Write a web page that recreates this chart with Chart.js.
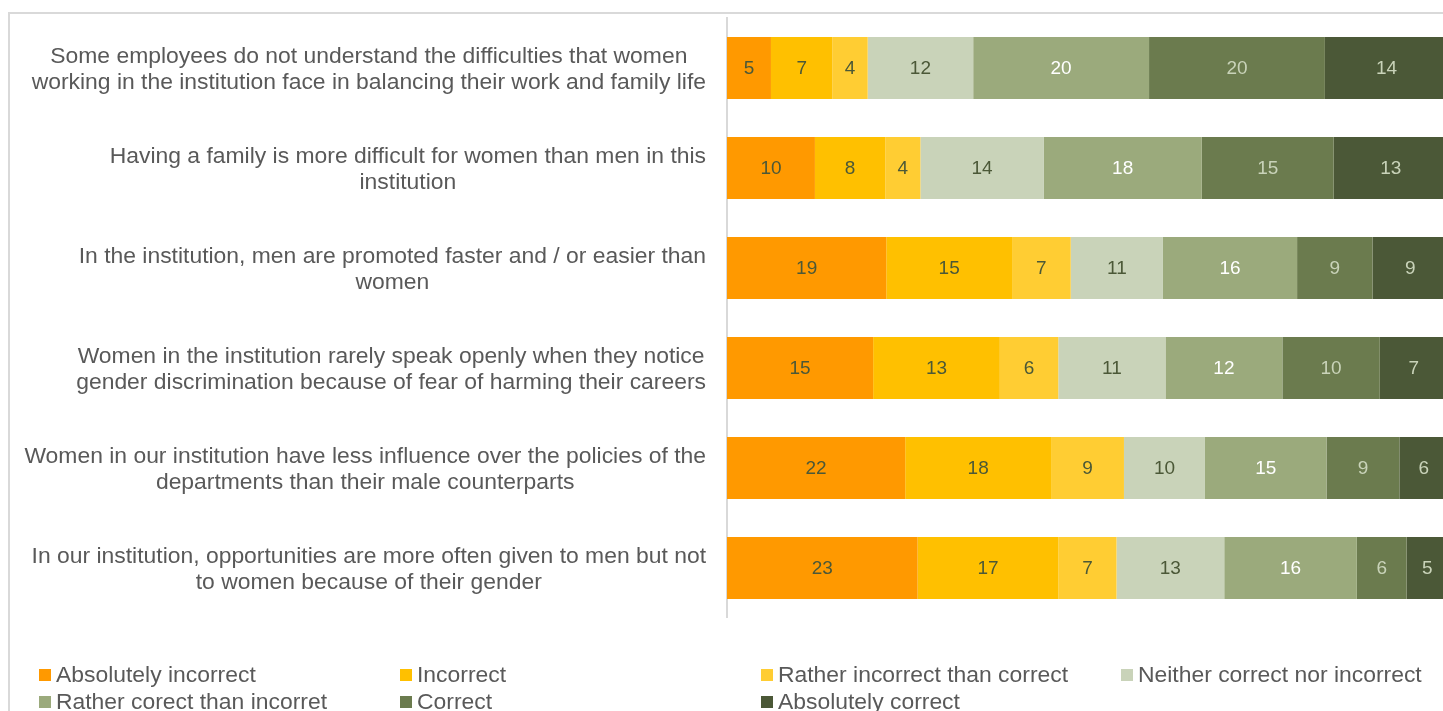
<!DOCTYPE html>
<html>
<head>
<meta charset="utf-8">
<script src="https://cdn.jsdelivr.net/npm/chart.js@4.4.1/dist/chart.umd.min.js"></script>
<style>
  html, body { margin: 0; padding: 0; background: #fff; overflow: hidden; }
  #page { position: relative; width: 1443px; height: 711px; overflow: hidden; }
  #frame { position: absolute; left: 8px; top: 12px; width: 1500px; height: 800px;
           border-left: 2px solid #d9d9d9; border-top: 2px solid #d9d9d9; }
  #wrap { position: absolute; left: 0; top: 0; width: 1448px; height: 618px; }
  #legend { position: absolute; left: 0; top: 0; width: 1443px; height: 711px; pointer-events: none;
            font-family: "Liberation Sans", Arial, sans-serif; font-size: 22.9px; color: #595959; }
  .item { position: absolute; white-space: nowrap; height: 27px; display: flex; align-items: center; }
  .box { display: inline-block; width: 12px; height: 12px; margin-right: 5px; }
</style>
</head>
<body>
<div id="page">
  <div id="frame"></div>
  <div id="wrap"><canvas id="myChart"></canvas></div>
  <div id="legend"></div>
</div>
<script>
// Catégories (questions)
const categories = [
  ["Some employees do not understand the difficulties that women", "working in the institution face in balancing their work and family life"],
  ["Having a family is more difficult for women than men in this", "institution"],
  ["In the institution, men are promoted faster and / or easier than", "women"],
  ["Women in the institution rarely speak openly when they notice", "gender discrimination because of fear of harming their careers"],
  ["Women in our institution have less influence over the policies of the", "departments than their male counterparts"],
  ["In our institution, opportunities are more often given to men but not", "to women because of their gender"]
];

// Séries
const seriesNames = [
  "Absolutely incorrect", "Incorrect", "Rather incorrect than correct",
  "Neither correct nor incorrect", "Rather corect than incorret", "Correct", "Absolutely correct"
];
const absolutelyIncorrect = [5, 10, 19, 15, 22, 23];
const incorrect = [7, 8, 15, 13, 18, 17];
const ratherIncorrect = [4, 4, 7, 6, 9, 7];
const neither = [12, 14, 11, 11, 10, 13];
const ratherCorrect = [20, 18, 16, 12, 15, 16];
const correct = [20, 15, 9, 10, 9, 6];
const absolutelyCorrect = [14, 13, 9, 7, 6, 5];

const seriesValues = [absolutelyIncorrect, incorrect, ratherIncorrect, neither, ratherCorrect, correct, absolutelyCorrect];
const fillColors = ['#ff9900', '#ffc000', '#ffcd33', '#c9d3b9', '#9baa7c', '#6b7b4e', '#4b5837'];
const labelColors = ['#4b5837', '#4b5837', '#4b5837', '#4b5837', '#ffffff', '#c9d3b9', '#c9d3b9'];

// Totaux par ligne (graphique empilé à 100 %)
const totals = categories.map((c, i) => seriesValues.reduce((s, arr) => s + arr[i], 0));

const datasets = seriesValues.map((vals, k) => ({
  label: seriesNames[k],
  data: vals.map((v, i) => v / totals[i] * 100),
  raw: vals,
  backgroundColor: fillColors[k],
  borderWidth: 0,
  barPercentage: 0.62,
  categoryPercentage: 1
}));

const FONT = '"Liberation Sans", Arial, sans-serif';

// Étiquettes de valeurs au centre de chaque segment
const valueLabels = {
  id: 'valueLabels',
  afterDatasetsDraw(chart) {
    const ctx = chart.ctx;
    ctx.save();
    ctx.font = '19px ' + FONT;
    ctx.textAlign = 'center';
    ctx.textBaseline = 'middle';
    chart.data.datasets.forEach((ds, k) => {
      const meta = chart.getDatasetMeta(k);
      meta.data.forEach((bar, i) => {
        ctx.fillStyle = labelColors[k];
        ctx.fillText(String(ds.raw[i]), (bar.x + bar.base) / 2, bar.y + 1);
      });
    });
    ctx.restore();
  }
};

// Libellés des catégories : lignes centrées entre elles, bloc aligné à droite
const categoryLabels = {
  id: 'categoryLabels',
  afterDraw(chart) {
    const ctx = chart.ctx;
    const yScale = chart.scales.y;
    const rightEdge = chart.chartArea.left - 21;
    ctx.save();
    ctx.font = '22.9px ' + FONT;
    ctx.fillStyle = '#595959';
    ctx.textAlign = 'center';
    ctx.textBaseline = 'middle';
    chart.data.labels.forEach((lines, i) => {
      const y = yScale.getPixelForTick(i) + 1.5;
      const w = Math.max(...lines.map(l => ctx.measureText(l).width));
      const cx = rightEdge - w / 2;
      const lh = 26;
      lines.forEach((l, j) => {
        ctx.fillText(l, cx, y + (j - (lines.length - 1) / 2) * lh);
      });
    });
    ctx.restore();
  }
};

const ctx = document.getElementById('myChart').getContext('2d');
const chart = new Chart(ctx, {
  type: 'bar',
  data: { labels: categories, datasets: datasets },
  options: {
    indexAxis: 'y',
    responsive: true,
    maintainAspectRatio: false,
    animation: false,
    layout: { padding: { top: 18, left: 0, right: 0, bottom: 0 } },
    scales: {
      x: { stacked: true, min: 0, max: 100, display: false },
      y: {
        stacked: true,
        grid: { display: false, drawTicks: false },
        border: { display: true, color: '#d9d9d9', width: 2 },
        ticks: { display: false },
        afterFit: function(scale) {
          scale.width = 727;
          scale.paddingTop = 0;
          scale.paddingBottom = 0;
        }
      }
    },
    plugins: {
      legend: { display: false },
      tooltip: { enabled: false }
    }
  },
  plugins: [valueLabels, categoryLabels]
});

// Légende en grille (4 colonnes)
const legendEl = document.getElementById('legend');
const colX = [39, 400, 761, 1121];
const rowY = [661, 688];
chart.data.datasets.forEach((ds, k) => {
  const div = document.createElement('div');
  div.className = 'item';
  div.style.left = colX[k % 4] + 'px';
  div.style.top = rowY[Math.floor(k / 4)] + 'px';
  div.innerHTML = '<span class="box" style="background:' + ds.backgroundColor + '"></span>' + ds.label;
  legendEl.appendChild(div);
});
</script>
</body>
</html>
